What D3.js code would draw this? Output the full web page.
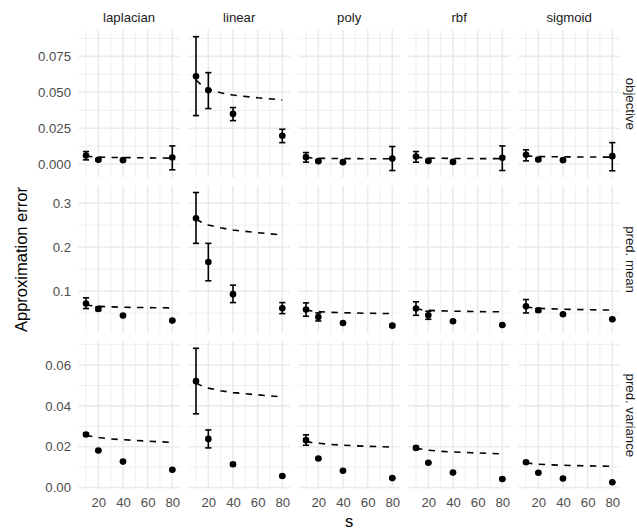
<!DOCTYPE html>
<html>
<head>
<meta charset="utf-8">
<script src="https://cdn.jsdelivr.net/npm/d3@7"></script>
<style>
  html, body { margin: 0; padding: 0; background: #fff; }
  svg { display: block; font-family: "Liberation Sans", Arial, Helvetica, sans-serif; }
</style>
</head>
<body>
<svg id="chart" width="637" height="531"></svg>
<script>
// ---------------- data ----------------
const kernels = ["laplacian", "linear", "poly", "rbf", "sigmoid"];
const metrics = ["objective", "pred. mean", "pred. variance"];
const sizes = [10, 20, 40, 80];
const xTicks = [20, 40, 60, 80];

// points (rows = kernels, columns = sizes)
const objMean = [
  [0.0060, 0.0030, 0.0028, 0.0046],
  [0.0611, 0.0514, 0.0350, 0.0197],
  [0.0049, 0.0021, 0.0014, 0.0039],
  [0.0053, 0.0023, 0.0016, 0.0044],
  [0.0065, 0.0032, 0.0028, 0.0056]
];
const objLo = [
  [0.0030, 0.0022, 0.0021, -0.0039],
  [0.0338, 0.0387, 0.0303, 0.0150],
  [0.0014, 0.0014, 0.0008, -0.0044],
  [0.0014, 0.0016, 0.0010, -0.0044],
  [0.0023, 0.0024, 0.0021, -0.0046]
];
const objHi = [
  [0.0088, 0.0038, 0.0035, 0.0127],
  [0.0887, 0.0637, 0.0394, 0.0243],
  [0.0081, 0.0028, 0.0020, 0.0123],
  [0.0088, 0.0030, 0.0022, 0.0127],
  [0.0100, 0.0040, 0.0035, 0.0150]
];

const meanMean = [
  [0.0719, 0.0597, 0.0445, 0.0331],
  [0.2658, 0.1662, 0.0932, 0.0612],
  [0.0582, 0.0414, 0.0278, 0.0217],
  [0.0605, 0.0452, 0.0316, 0.0232],
  [0.0658, 0.0567, 0.0475, 0.0361]
];
const meanLo = [
  [0.0605, 0.0560, 0.0425, 0.0315],
  [0.2087, 0.1236, 0.0741, 0.0490],
  [0.0430, 0.0323, 0.0262, 0.0195],
  [0.0452, 0.0361, 0.0300, 0.0215],
  [0.0506, 0.0530, 0.0460, 0.0345]
];
const meanHi = [
  [0.0848, 0.0635, 0.0465, 0.0347],
  [0.3243, 0.2087, 0.1137, 0.0741],
  [0.0734, 0.0506, 0.0294, 0.0239],
  [0.0757, 0.0544, 0.0332, 0.0249],
  [0.0810, 0.0604, 0.0490, 0.0377]
];

const varMean = [
  [0.0260, 0.0181, 0.0127, 0.0087],
  [0.0521, 0.0238, 0.0114, 0.0056],
  [0.0232, 0.0142, 0.0082, 0.0046],
  [0.0194, 0.0121, 0.0073, 0.0042],
  [0.0124, 0.0072, 0.0044, 0.0026]
];
const varLo = [
  [0.0253, 0.0177, 0.0124, 0.0085],
  [0.0361, 0.0194, 0.0107, 0.0053],
  [0.0207, 0.0138, 0.0079, 0.0044],
  [0.0187, 0.0118, 0.0071, 0.0040],
  [0.0120, 0.0070, 0.0042, 0.0025]
];
const varHi = [
  [0.0267, 0.0185, 0.0130, 0.0089],
  [0.0682, 0.0282, 0.0121, 0.0059],
  [0.0258, 0.0146, 0.0085, 0.0048],
  [0.0201, 0.0124, 0.0075, 0.0044],
  [0.0128, 0.0074, 0.0046, 0.0027]
];

// dashed reference curves
const dashS = [10, 15, 20, 30, 40, 60, 80];
const objDash = [
  [0.0058, 0.0052, 0.0049, 0.0047, 0.0046, 0.0044, 0.0042],
  [0.0586, 0.0545, 0.0522, 0.0497, 0.0481, 0.0462, 0.0447],
  [0.0046, 0.0043, 0.0041, 0.0040, 0.0039, 0.0038, 0.0038],
  [0.0049, 0.0045, 0.0042, 0.0041, 0.0040, 0.0039, 0.0039],
  [0.0058, 0.0055, 0.0053, 0.0052, 0.0051, 0.0050, 0.0049]
];
const meanDash = [
  [0.0685, 0.0668, 0.0655, 0.0643, 0.0635, 0.0627, 0.0620],
  [0.2635, 0.2560, 0.2506, 0.2440, 0.2390, 0.2330, 0.2278],
  [0.0570, 0.0548, 0.0535, 0.0520, 0.0510, 0.0498, 0.0490],
  [0.0600, 0.0578, 0.0565, 0.0553, 0.0545, 0.0536, 0.0530],
  [0.0640, 0.0622, 0.0610, 0.0598, 0.0590, 0.0578, 0.0570]
];
const varDash = [
  [0.0256, 0.0250, 0.0245, 0.0238, 0.0234, 0.0227, 0.0221],
  [0.0512, 0.0497, 0.0487, 0.0474, 0.0465, 0.0454, 0.0444],
  [0.0225, 0.0220, 0.0217, 0.0211, 0.0207, 0.0202, 0.0198],
  [0.0193, 0.0187, 0.0183, 0.0177, 0.0174, 0.0169, 0.0165],
  [0.0121, 0.0117, 0.0114, 0.0111, 0.0109, 0.0106, 0.0104]
];

const yTicks = [
  [0, 0.025, 0.05, 0.075],
  [0.1, 0.2, 0.3],
  [0, 0.02, 0.04, 0.06]
];
const yTickLabels = [
  ["0.000", "0.025", "0.050", "0.075"],
  ["0.1", "0.2", "0.3"],
  ["0.00", "0.02", "0.04", "0.06"]
];

const rowMean = [objMean, meanMean, varMean];
const rowLo = [objLo, meanLo, varLo];
const rowHi = [objHi, meanHi, varHi];
const rowDash = [objDash, meanDash, varDash];

// ---------------- layout ----------------
(function () {
const svg = d3.select("#chart");
const padL = 78.3, padT = 30;
const pw = 101.7, ph = 147.5, gap = 8.3;
const errW = 5; // error bar width in data units
const grid = "#EBEBEB";

const xData = d3.extent(sizes);
const xLo = xData[0] - errW / 2, xHi = xData[1] + errW / 2;
const xPad = (xHi - xLo) * 0.05;
const xDomain = [xLo - xPad, xHi + xPad];

function yDomain(r) {
  const lo = d3.min(rowLo[r].flat()), hi = d3.max(rowHi[r].flat());
  const p = (hi - lo) * 0.05;
  return [lo - p, hi + p];
}

const fontSmall = 13.2, fontTitle = 16.5;

metrics.forEach((m, r) => {
  const y0 = padT + r * (ph + gap);
  const y = d3.scaleLinear().domain(yDomain(r)).range([y0 + ph, y0]);
  const ticks = yTicks[r];
  const step = ticks[1] - ticks[0];
  const minorY = [];
  for (let i = -1; i < ticks.length; i++) {
    const v = ticks[0] + step * (i + 0.5);
    if (v >= y.domain()[0] && v <= y.domain()[1]) minorY.push(v);
  }

  kernels.forEach((k, c) => {
    const x0 = padL + c * (pw + gap);
    const x = d3.scaleLinear().domain(xDomain).range([x0, x0 + pw]);
    const g = svg.append("g");
    const xStep = xTicks[1] - xTicks[0];
    const minorX = [];
    for (let i = -1; i < xTicks.length; i++) {
      const v = xTicks[0] + xStep * (i + 0.5);
      if (v >= xDomain[0] && v <= xDomain[1]) minorX.push(v);
    }
    // minor grid
    g.selectAll(".mgy").data(minorY).enter().append("line")
      .attr("x1", x0).attr("x2", x0 + pw).attr("y1", d => y(d)).attr("y2", d => y(d))
      .attr("stroke", grid).attr("stroke-width", 0.8);
    g.selectAll(".mgx").data(minorX).enter().append("line")
      .attr("y1", y0).attr("y2", y0 + ph).attr("x1", d => x(d)).attr("x2", d => x(d))
      .attr("stroke", grid).attr("stroke-width", 0.8);
    // major grid
    g.selectAll(".gy").data(ticks).enter().append("line")
      .attr("x1", x0).attr("x2", x0 + pw).attr("y1", d => y(d)).attr("y2", d => y(d))
      .attr("stroke", grid).attr("stroke-width", 1.6);
    g.selectAll(".gx").data(xTicks).enter().append("line")
      .attr("y1", y0).attr("y2", y0 + ph).attr("x1", d => x(d)).attr("x2", d => x(d))
      .attr("stroke", grid).attr("stroke-width", 1.6);

    // dashed curve
    const dashData = dashS.map((s, i) => [s, rowDash[r][c][i]]);
    g.append("path").datum(dashData)
      .attr("d", d3.line().x(d => x(d[0])).y(d => y(d[1])))
      .attr("fill", "none").attr("stroke", "#000").attr("stroke-width", 1.6)
      .attr("stroke-dasharray", "6.4,6.4");

    // error bars
    const pts = sizes.map((s, i) => ({
      s, m: rowMean[r][c][i], lo: rowLo[r][c][i], hi: rowHi[r][c][i]
    }));
    const eb = g.selectAll(".eb").data(pts).enter().append("g");
    eb.append("line").attr("x1", d => x(d.s)).attr("x2", d => x(d.s))
      .attr("y1", d => y(d.lo)).attr("y2", d => y(d.hi))
      .attr("stroke", "#000").attr("stroke-width", 1.6);
    eb.append("line").attr("x1", d => x(d.s - errW / 2)).attr("x2", d => x(d.s + errW / 2))
      .attr("y1", d => y(d.lo)).attr("y2", d => y(d.lo))
      .attr("stroke", "#000").attr("stroke-width", 1.6);
    eb.append("line").attr("x1", d => x(d.s - errW / 2)).attr("x2", d => x(d.s + errW / 2))
      .attr("y1", d => y(d.hi)).attr("y2", d => y(d.hi))
      .attr("stroke", "#000").attr("stroke-width", 1.6);
    // points
    g.selectAll(".pt").data(pts).enter().append("circle")
      .attr("cx", d => x(d.s)).attr("cy", d => y(d.m)).attr("r", 3.3)
      .attr("fill", "#000");

    // top strips
    if (r === 0) {
      svg.append("text").attr("x", x0 + pw / 2).attr("y", 17)
        .attr("text-anchor", "middle").attr("dominant-baseline", "central")
        .attr("font-size", fontSmall).attr("fill", "#1A1A1A").text(k);
    }
    // bottom axis
    if (r === metrics.length - 1) {
      const ax = svg.append("g").attr("transform", `translate(0,${y0 + ph})`)
        .call(d3.axisBottom(x).tickValues(xTicks).tickSize(0).tickPadding(8.6));
      ax.select(".domain").remove();
      ax.selectAll("text").attr("font-size", fontSmall).attr("fill", "#4D4D4D")
        .attr("font-family", "Liberation Sans, Arial, sans-serif");
    }
  });

  // left axis
  const ay = svg.append("g").attr("transform", `translate(${padL},0)`)
    .call(d3.axisLeft(y).tickValues(yTicks[r]).tickSize(0).tickPadding(7.3)
      .tickFormat((d, i) => yTickLabels[r][i]));
  ay.select(".domain").remove();
  ay.selectAll("text").attr("font-size", fontSmall).attr("fill", "#4D4D4D")
    .attr("font-family", "Liberation Sans, Arial, sans-serif");

  // right strip
  const cy = y0 + ph / 2;
  svg.append("text").attr("transform", `translate(630,${cy}) rotate(90)`)
    .attr("text-anchor", "middle").attr("dominant-baseline", "central")
    .attr("font-size", fontSmall).attr("fill", "#1A1A1A").text(m);
});

// axis titles
const totalRight = padL + kernels.length * pw + (kernels.length - 1) * gap;
const totalBottom = padT + metrics.length * ph + (metrics.length - 1) * gap;
svg.append("text").attr("x", (padL + totalRight) / 2).attr("y", 527)
  .attr("text-anchor", "middle").attr("font-size", fontTitle).attr("fill", "#000").text("s");
svg.append("text").attr("transform", `translate(21,${(padT + totalBottom) / 2}) rotate(-90)`)
  .attr("text-anchor", "middle").attr("dominant-baseline", "central")
  .attr("font-size", fontTitle).attr("fill", "#000").text("Approximation error");
})();
</script>
</body>
</html>
